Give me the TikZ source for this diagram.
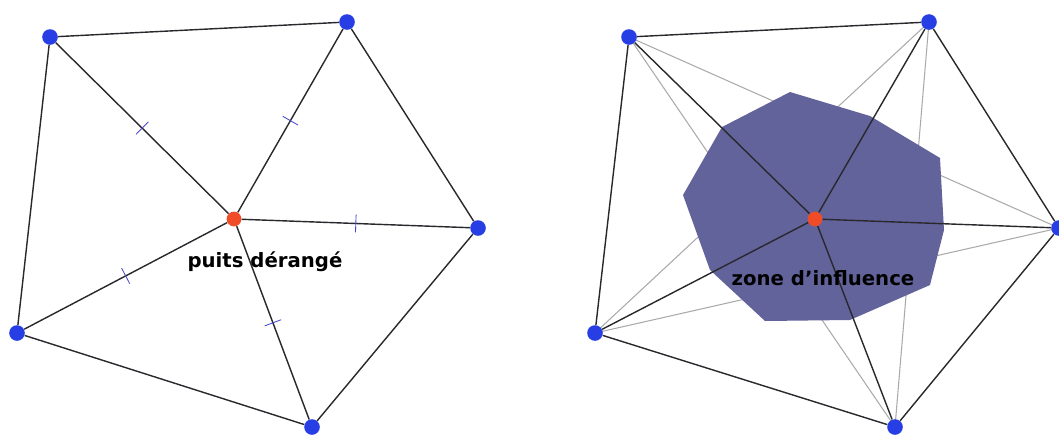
\documentclass[tikz,border=0pt]{standalone}
\usepackage{fontspec}
\setmainfont{DejaVu Sans}

\definecolor{wellblue}{RGB}{38,62,228}
\definecolor{sinkred}{RGB}{240,76,40}
\definecolor{edgegray}{RGB}{40,40,45}
\definecolor{diaggray}{RGB}{170,170,172}
\definecolor{tickblue}{RGB}{70,70,205}
\definecolor{zonefill}{RGB}{99,99,156}

\begin{document}
\begin{tikzpicture}[
        x=0.025cm,
        y=-0.025cm,
        wellnode/.style={
            circle,
            fill=wellblue,
            inner sep=0pt,
            minimum size=0.39cm
        },
        sinknode/.style={
            circle,
            fill=sinkred,
            inner sep=0pt,
            minimum size=0.37cm
        },
        edge/.style={
            draw=edgegray,
            line width=1pt
        },
        diag/.style={
            draw=diaggray,
            line width=0.75pt
        },
        tickmark/.style={
            sloped,
            pos=0.5,
            draw=tickblue,
            line width=0.6pt,
            inner sep=0pt,
            minimum width=0pt,
            minimum height=0.44cm
        },
        tag/.style={
            font=\bfseries\fontsize{14}{16}\selectfont,
            text=black,
            inner sep=0pt
        }
    ]

        \useasboundingbox (0,0) rectangle (1059,435);

        % Left: disturbed well and its neighbours
        \node[wellnode] (l1) at (50,37) {};
        \node[wellnode] (l2) at (347,22) {};
        \node[wellnode] (l3) at (478,228) {};
        \node[wellnode] (l4) at (312,427) {};
        \node[wellnode] (l5) at (17,333) {};
        \node[sinknode] (lc) at (234,219) {};

        \draw[edge] (l1) -- (l2) -- (l3) -- (l4) -- (l5) -- (l1);
        \draw[edge] (lc) -- node[tickmark] {} (l1);
        \draw[edge] (lc) -- node[tickmark] {} (l2);
        \draw[edge] (lc) -- node[tickmark] {} (l3);
        \draw[edge] (lc) -- node[tickmark] {} (l4);
        \draw[edge] (lc) -- node[tickmark] {} (l5);

        \node[tag] (ltag) at (265,262) {puits dérangé};

        % Right: influence zone
        \coordinate (r1) at (629,37);
        \coordinate (r2) at (929,22);
        \coordinate (r3) at (1059,228);
        \coordinate (r4) at (895,427);
        \coordinate (r5) at (595,333);

        \draw[diag] (r1) -- (r3) -- (r5) -- (r2) -- (r4) -- (r1);

        \fill[zonefill] (790,92) -- (870,116) -- (940,158) -- (944,230)
            -- (930,285) -- (850,320) -- (765,321) -- (710,270)
            -- (683,195) -- (722,127) -- cycle;

        \node[wellnode] (w1) at (r1) {};
        \node[wellnode] (w2) at (r2) {};
        \node[wellnode] (w3) at (r3) {};
        \node[wellnode] (w4) at (r4) {};
        \node[wellnode] (w5) at (r5) {};
        \node[sinknode] (rc) at (815,219) {};

        \draw[edge] (w1) -- (w2) -- (w3) -- (w4) -- (w5) -- (w1);
        \foreach \k in {1,...,5}
            \draw[edge] (rc) -- (w\k);

        \node[tag] (rtag) at (823,278) {zone d’influence};

    \end{tikzpicture}
\end{document}
